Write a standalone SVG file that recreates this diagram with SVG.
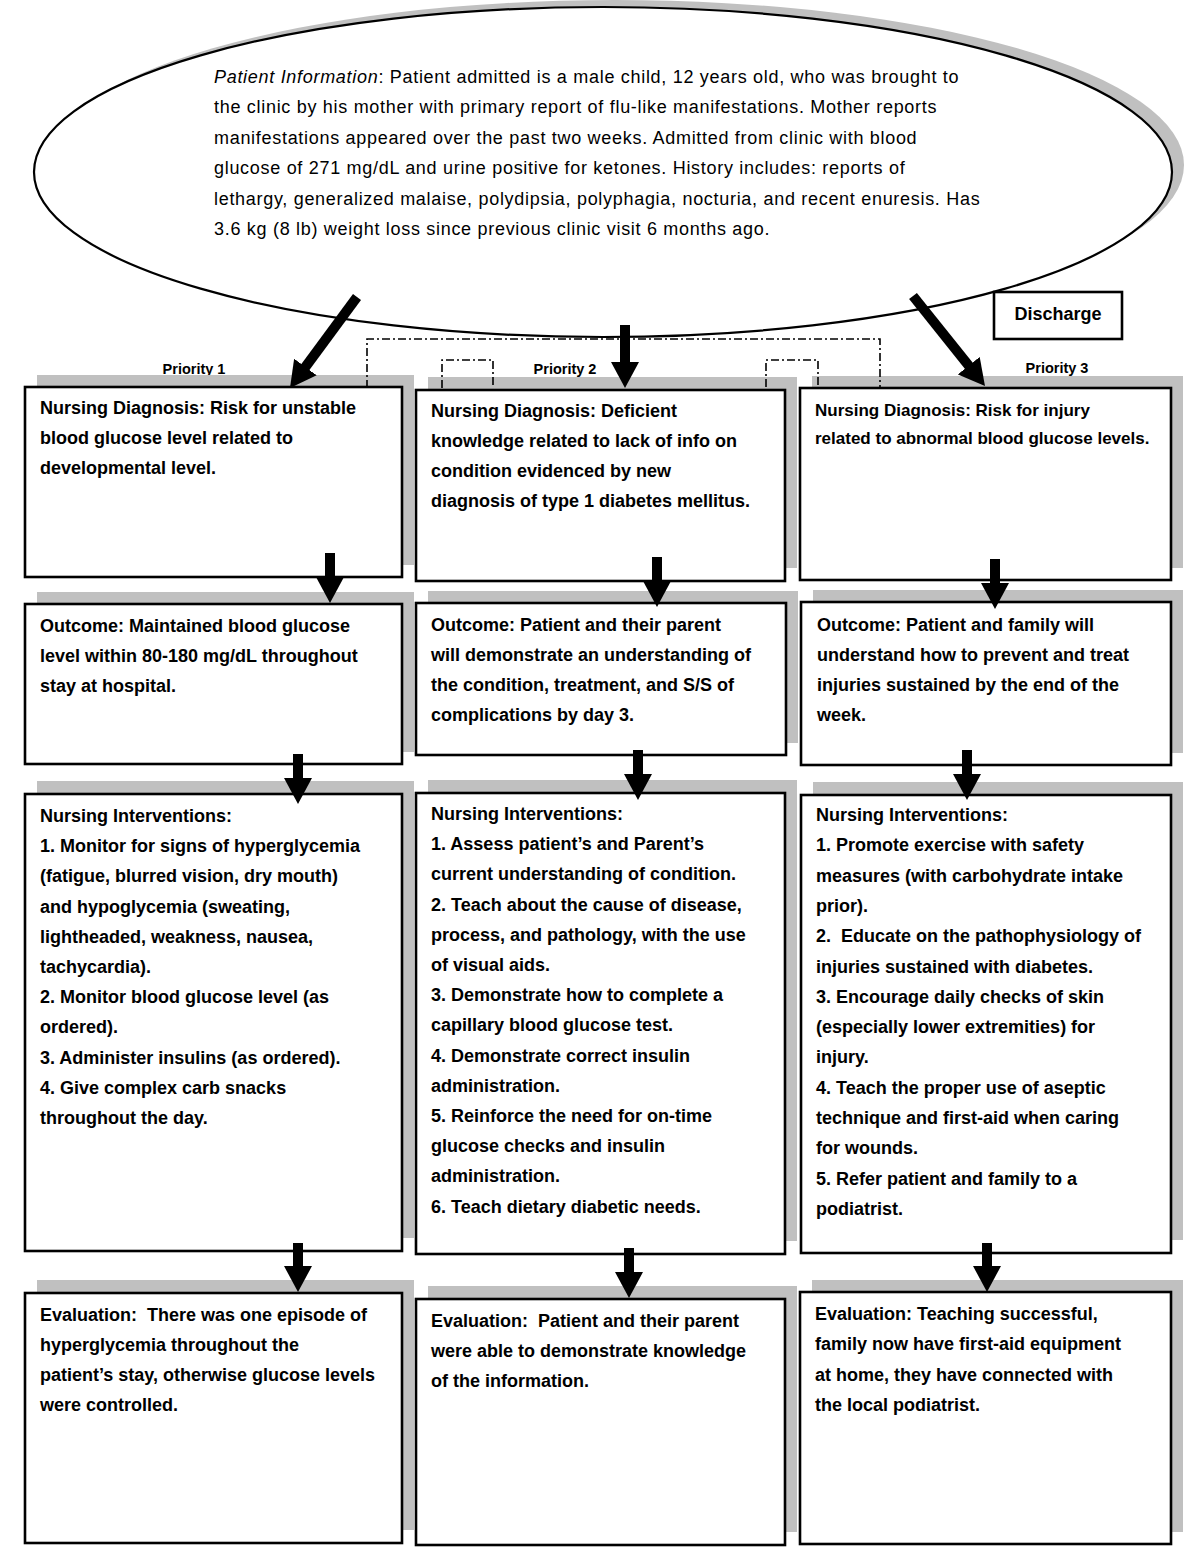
<svg xmlns="http://www.w3.org/2000/svg" width="1200" height="1553" viewBox="0 0 1200 1553">
<defs>
<style>
.box{fill:#fff;stroke:#000;stroke-width:2.6}
.sh{fill:#c0c0c0}
.t{font-family:"Liberation Sans",Arial,sans-serif;font-size:18px;font-weight:bold;fill:#000}
.t2{font-size:17px}
.p{font-family:"Liberation Sans",Arial,sans-serif;font-size:18px;letter-spacing:0.7px;fill:#000}
.pri{font-family:"Liberation Sans",Arial,sans-serif;font-size:14.5px;font-weight:bold;fill:#000;text-anchor:middle}
.arr{fill:none;stroke:#000;stroke-width:10;marker-end:url(#head)}
.dash{fill:none;stroke:#000;stroke-width:1.6;stroke-dasharray:8 3 2 3}
</style>
<marker id="head" markerUnits="userSpaceOnUse" viewBox="0 0 26 28" refX="14" refY="14" markerWidth="26" markerHeight="28" orient="auto">
<path d="M0,0 L26,14 L0,28 Z" fill="#000"/>
</marker>
</defs>
<rect width="1200" height="1553" fill="#fff"/>

<g id="patient-info">
<ellipse cx="615" cy="165" rx="569" ry="165" class="sh"/>
<ellipse cx="603" cy="172" rx="569" ry="165" fill="#fff" stroke="#000" stroke-width="2.2"/>
<text class="p" x="214" y="83"><tspan font-style="italic">Patient Information</tspan>: Patient admitted is a male child, 12 years old, who was brought to</text>
<text class="p" x="214" y="113.4">the clinic by his mother with primary report of flu-like manifestations. Mother reports</text>
<text class="p" x="214" y="143.8">manifestations appeared over the past two weeks. Admitted from clinic with blood</text>
<text class="p" x="214" y="174.2">glucose of 271 mg/dL and urine positive for ketones. History includes: reports of</text>
<text class="p" x="214" y="204.6">lethargy, generalized malaise, polydipsia, polyphagia, nocturia, and recent enuresis. Has</text>
<text class="p" x="214" y="235">3.6 kg (8 lb) weight loss since previous clinic visit 6 months ago.</text>
</g>

<g id="discharge">
<rect x="994" y="292" width="128" height="47" class="box"/>
<text class="t" x="1058" y="320" text-anchor="middle">Discharge</text>
</g>

<g id="priority-labels">
<text class="pri" x="194" y="374">Priority 1</text>
<text class="pri" x="565" y="374">Priority 2</text>
<text class="pri" x="1057" y="373">Priority 3</text>
</g>

<g id="diag1">
<rect x="37" y="375" width="377" height="190" class="sh"/>
<rect x="25" y="387" width="377" height="190" class="box"/>
<text class="t" x="40" y="414"><tspan x="40">Nursing Diagnosis: Risk for unstable</tspan><tspan x="40" dy="30">blood glucose level related to</tspan><tspan x="40" dy="30">developmental level.</tspan></text>
</g>
<g id="outcome1">
<rect x="37" y="592" width="377" height="160" class="sh"/>
<rect x="25" y="604" width="377" height="160" class="box"/>
<text class="t" x="40" y="632"><tspan x="40">Outcome: Maintained blood glucose</tspan><tspan x="40" dy="30">level within 80-180 mg/dL throughout</tspan><tspan x="40" dy="30">stay at hospital.</tspan></text>
</g>
<g id="interventions1">
<rect x="37" y="781" width="377" height="457" class="sh"/>
<rect x="25" y="794" width="377" height="457" class="box"/>
<text class="t" x="40" y="822"><tspan x="40">Nursing Interventions:</tspan><tspan x="40" dy="30.2">1. Monitor for signs of hyperglycemia</tspan><tspan x="40" dy="30.2">(fatigue, blurred vision, dry mouth)</tspan><tspan x="40" dy="30.2">and hypoglycemia (sweating,</tspan><tspan x="40" dy="30.2">lightheaded, weakness, nausea,</tspan><tspan x="40" dy="30.2">tachycardia).</tspan><tspan x="40" dy="30.2">2. Monitor blood glucose level (as</tspan><tspan x="40" dy="30.2">ordered).</tspan><tspan x="40" dy="30.2">3. Administer insulins (as ordered).</tspan><tspan x="40" dy="30.2">4. Give complex carb snacks</tspan><tspan x="40" dy="30.2">throughout the day.</tspan></text>
</g>
<g id="evaluation1">
<rect x="37" y="1280" width="377" height="250" class="sh"/>
<rect x="25" y="1293" width="377" height="250" class="box"/>
<text class="t" x="40" y="1321"><tspan x="40">Evaluation:&#160; There was one episode of</tspan><tspan x="40" dy="30">hyperglycemia throughout the</tspan><tspan x="40" dy="30">patient’s stay, otherwise glucose levels</tspan><tspan x="40" dy="30">were controlled.</tspan></text>
</g>

<g id="diag2">
<rect x="428" y="377" width="369" height="191" class="sh"/>
<rect x="416" y="390" width="369" height="191" class="box"/>
<text class="t" x="431" y="417"><tspan x="431">Nursing Diagnosis: Deficient</tspan><tspan x="431" dy="30">knowledge related to lack of info on</tspan><tspan x="431" dy="30">condition evidenced by new</tspan><tspan x="431" dy="30">diagnosis of type 1 diabetes mellitus.</tspan></text>
</g>
<g id="outcome2">
<rect x="428" y="591" width="370" height="152" class="sh"/>
<rect x="416" y="603" width="370" height="152" class="box"/>
<text class="t" x="431" y="631"><tspan x="431">Outcome: Patient and their parent</tspan><tspan x="431" dy="30">will demonstrate an understanding of</tspan><tspan x="431" dy="30">the condition, treatment, and S/S of</tspan><tspan x="431" dy="30">complications by day 3.</tspan></text>
</g>
<g id="interventions2">
<rect x="428" y="780" width="369" height="461" class="sh"/>
<rect x="416" y="793" width="369" height="461" class="box"/>
<text class="t" x="431" y="820"><tspan x="431">Nursing Interventions:</tspan><tspan x="431" dy="30.2">1. Assess patient’s and Parent’s</tspan><tspan x="431" dy="30.2">current understanding of condition.</tspan><tspan x="431" dy="30.2">2. Teach about the cause of disease,</tspan><tspan x="431" dy="30.2">process, and pathology, with the use</tspan><tspan x="431" dy="30.2">of visual aids.</tspan><tspan x="431" dy="30.2">3. Demonstrate how to complete a</tspan><tspan x="431" dy="30.2">capillary blood glucose test.</tspan><tspan x="431" dy="30.2">4. Demonstrate correct insulin</tspan><tspan x="431" dy="30.2">administration.</tspan><tspan x="431" dy="30.2">5. Reinforce the need for on-time</tspan><tspan x="431" dy="30.2">glucose checks and insulin</tspan><tspan x="431" dy="30.2">administration.</tspan><tspan x="431" dy="30.2">6. Teach dietary diabetic needs.</tspan></text>
</g>
<g id="evaluation2">
<rect x="428" y="1286" width="369" height="246" class="sh"/>
<rect x="416" y="1299" width="369" height="246" class="box"/>
<text class="t" x="431" y="1327"><tspan x="431">Evaluation:&#160; Patient and their parent</tspan><tspan x="431" dy="30">were able to demonstrate knowledge</tspan><tspan x="431" dy="30">of the information.</tspan></text>
</g>

<g id="diag3">
<rect x="812" y="376" width="371" height="192" class="sh"/>
<rect x="800" y="388" width="371" height="192" class="box"/>
<text class="t t2" x="815" y="416"><tspan x="815">Nursing Diagnosis: Risk for injury</tspan><tspan x="815" dy="28">related to abnormal blood glucose levels.</tspan></text>
</g>
<g id="outcome3">
<rect x="813" y="590" width="370" height="163" class="sh"/>
<rect x="801" y="602" width="370" height="163" class="box"/>
<text class="t" x="817" y="631"><tspan x="817">Outcome: Patient and family will</tspan><tspan x="817" dy="30">understand how to prevent and treat</tspan><tspan x="817" dy="30">injuries sustained by the end of the</tspan><tspan x="817" dy="30">week.</tspan></text>
</g>
<g id="interventions3">
<rect x="813" y="782" width="370" height="458" class="sh"/>
<rect x="801" y="795" width="370" height="458" class="box"/>
<text class="t" x="816" y="821"><tspan x="816">Nursing Interventions:</tspan><tspan x="816" dy="30.3">1. Promote exercise with safety</tspan><tspan x="816" dy="30.3">measures (with carbohydrate intake</tspan><tspan x="816" dy="30.3">prior).</tspan><tspan x="816" dy="30.3">2.&#160; Educate on the pathophysiology of</tspan><tspan x="816" dy="30.3">injuries sustained with diabetes.</tspan><tspan x="816" dy="30.3">3. Encourage daily checks of skin</tspan><tspan x="816" dy="30.3">(especially lower extremities) for</tspan><tspan x="816" dy="30.3">injury.</tspan><tspan x="816" dy="30.3">4. Teach the proper use of aseptic</tspan><tspan x="816" dy="30.3">technique and first-aid when caring</tspan><tspan x="816" dy="30.3">for wounds.</tspan><tspan x="816" dy="30.3">5. Refer patient and family to a</tspan><tspan x="816" dy="30.3">podiatrist.</tspan></text>
</g>
<g id="evaluation3">
<rect x="812" y="1280" width="371" height="252" class="sh"/>
<rect x="800" y="1292" width="371" height="252" class="box"/>
<text class="t" x="815" y="1320"><tspan x="815">Evaluation: Teaching successful,</tspan><tspan x="815" dy="30.3">family now have first-aid equipment</tspan><tspan x="815" dy="30.3">at home, they have connected with</tspan><tspan x="815" dy="30.3">the local podiatrist.</tspan></text>
</g>

<g id="connectors">
<path class="dash" d="M367,388 V339 H880 V387"/>
<path class="dash" d="M442,388 V360 H493 V388"/>
<path class="dash" d="M766,387 V360 H818 V387"/>
<line class="arr" x1="357" y1="297" x2="297.1" y2="378.3"/>
<line class="arr" x1="625" y1="325" x2="625" y2="376"/>
<line class="arr" x1="913" y1="296" x2="977.5" y2="376.6"/>
<line class="arr" x1="330" y1="553" x2="330" y2="591"/>
<line class="arr" x1="298" y1="754" x2="298" y2="792"/>
<line class="arr" x1="298" y1="1243" x2="298" y2="1280"/>
<line class="arr" x1="657" y1="557" x2="657" y2="595"/>
<line class="arr" x1="638" y1="750" x2="638" y2="788"/>
<line class="arr" x1="629" y1="1248" x2="629" y2="1286"/>
<line class="arr" x1="995" y1="559" x2="995" y2="597"/>
<line class="arr" x1="967" y1="750" x2="967" y2="788"/>
<line class="arr" x1="987" y1="1243" x2="987" y2="1280"/>
</g>
</svg>
